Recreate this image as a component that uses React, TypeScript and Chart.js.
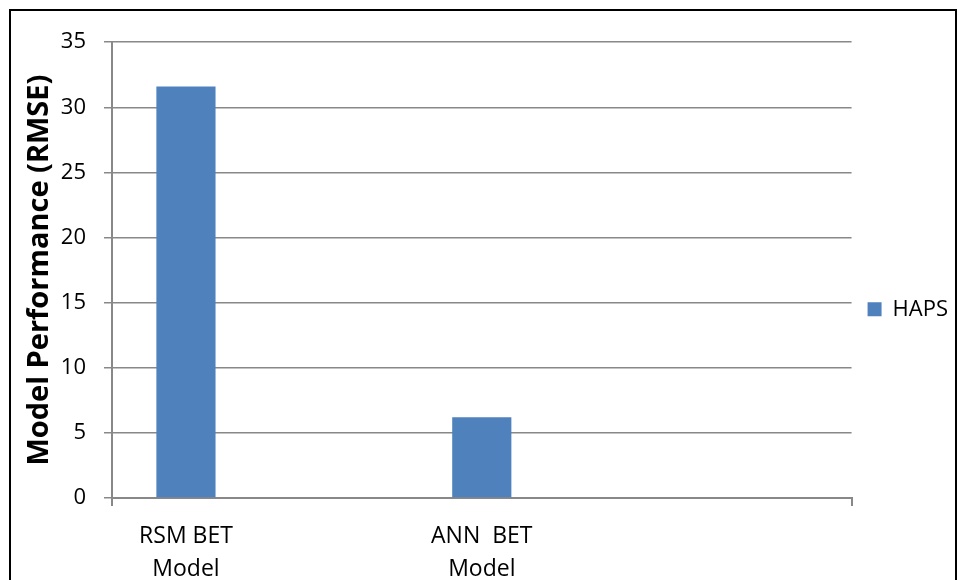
import React, { useEffect, useRef } from "react";
import { Chart, registerables } from "chart.js";

Chart.register(...registerables);

const categories: (string | string[])[] = [["RSM BET", "Model"], "", ["ANN  BET", "Model"], "", ""];
const seriesName = "HAPS";
const hapsValues: (number | null)[] = [31.6, null, 6.2, null, null];
const yMin = 0;
const yMax = 35;
const yStep = 5;
const yTitle = "Model Performance (RMSE)";

const FONT = "'Open Sans', sans-serif";
const GRID = "#888888";
const BAR = "#4f81bd";

export default function App() {
  const ref = useRef<HTMLCanvasElement | null>(null);

  useEffect(() => {
    if (!ref.current) return;
    const chart = new Chart(ref.current, {
      type: "bar",
      data: {
        labels: categories,
        datasets: [
          {
            label: seriesName,
            data: hapsValues,
            backgroundColor: BAR,
            borderWidth: 0,
            categoryPercentage: 1,
            barPercentage: 0.4,
          },
        ],
      },
      options: {
        animation: false,
        responsive: false,
        maintainAspectRatio: false,
        layout: { padding: { left: 0, top: 27.5, right: -3, bottom: 0 } },
        plugins: {
          tooltip: { enabled: false },
          legend: {
            display: true,
            position: "right",
            align: "center",
            labels: {
              boxWidth: 14,
              boxHeight: 14,
              padding: 16,
              color: "#000",
              font: { family: FONT, size: 22 },
            },
          },
        },
        scales: {
          x: {
            type: "category",
            offset: true,
            grid: {
              offset: true,
              drawOnChartArea: false,
              drawTicks: true,
              tickLength: 8,
              lineWidth: 2,
              color: (c: any) => (c.index === 0 || c.index === undefined ? GRID : "rgba(0,0,0,0)"),
            },
            border: { display: true, color: GRID, width: 2 },
            ticks: {
              autoSkip: false,
              maxRotation: 0,
              minRotation: 0,
              padding: 14,
              color: "#000",
              font: { family: FONT, size: 23, lineHeight: 1.43 },
            },
            afterFit: (s: any) => {
              s.height = 82;
            },
          },
          y: {
            min: yMin,
            max: yMax,
            ticks: {
              stepSize: yStep,
              padding: 18,
              color: "#000",
              font: { family: FONT, size: 22 },
            },
            grid: {
              color: GRID,
              lineWidth: 1.5,
              tickLength: 8,
            },
            border: { display: true, color: GRID, width: 2 },
            title: {
              display: true,
              text: yTitle,
              color: "#000",
              font: { family: FONT, size: 29, weight: "bold" },
              padding: { top: 11, bottom: 0 },
            },
            afterFit: (s: any) => {
              s.width = 101;
            },
          },
        },
      },
    } as any);
    return () => chart.destroy();
  }, []);

  return (
    <div
      style={{
        position: "absolute",
        left: 9,
        top: 9,
        width: 944,
        height: 569,
        borderLeft: "2px solid #000",
        borderRight: "2px solid #000",
        borderTop: "2px solid #000",
        overflow: "hidden",
        background: "#fff",
      }}
    >
      <canvas ref={ref} width={944} height={569} style={{ display: "block" }} />
    </div>
  );
}
